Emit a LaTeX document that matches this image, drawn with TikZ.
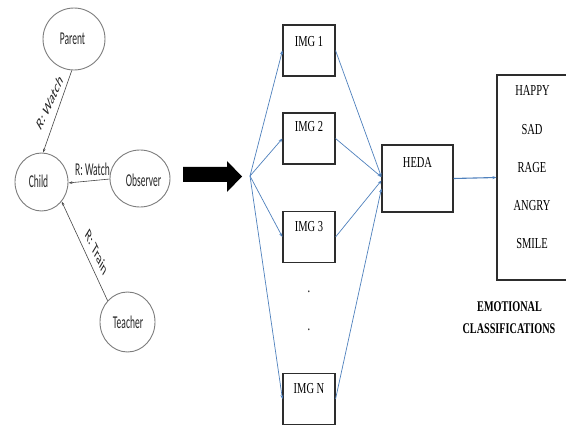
\documentclass[tikz,border=0pt]{standalone}
\usepackage{fontspec}
\setmainfont{Liberation Serif}
\newfontfamily\graphfont{Carlito}
\usetikzlibrary{shapes.geometric,arrows.meta,calc}
\definecolor{linkblue}{RGB}{79,129,189}
\definecolor{ringgray}{RGB}{125,125,125}
\definecolor{edgegray}{RGB}{70,70,70}
\definecolor{boxline}{RGB}{45,45,45}

\begin{document}
\begin{tikzpicture}[x=1pt,y=-1pt,
  ring/.style={draw=ringgray, line width=0.9pt, ellipse, inner sep=0pt},
  gtext/.style={font=\graphfont\fontsize{9.5}{11}\selectfont, text=black!85, inner sep=0pt, yscale=1.9},
  rel/.style={draw=edgegray, line width=0.6pt, -{Stealth[length=4pt,width=2.6pt]}},
  imgbox/.style={draw=boxline, line width=1.1pt, minimum width=52pt, minimum height=51pt, inner sep=0pt},
  stext/.style={font=\fontsize{10.5}{12}\selectfont, inner sep=0pt, yscale=1.45},
  btext/.style={font=\bfseries\fontsize{10.2}{12}\selectfont, inner sep=0pt, yscale=1.45},
  flow/.style={draw=linkblue, line width=0.7pt, -{Stealth[length=4pt,width=3pt]}},
]
\clip (0,0) rectangle (566,428);
\fill[white] (0,0) rectangle (566,428);

% ---- relation graph ----
\node[ring, minimum width=62pt, minimum height=62pt] (parent) at (74,39) {};
\node[gtext] (parentT) at (72.5,39) {Parent};
\node[ring, minimum width=53pt, minimum height=58pt] (child) at (41.5,182) {};
\node[gtext] (childT) at (38.5,181) {Child};
\node[ring, minimum width=60pt, minimum height=57pt] (observer) at (140,178.5) {};
\node[gtext] (observerT) at (143.5,180) {Observer};
\node[ring, minimum width=55pt, minimum height=60pt] (teacher) at (127.5,322) {};
\node[gtext] (teacherT) at (128,322.5) {Teacher};

\draw[rel] (parent.-94) -- (child.87);
\draw[rel] (observer.181) -- (child.-2);
\draw[rel] (teacher.133) -- (child.-44);
\node[gtext, rotate=49] (lblParent) at (49.5,102.5) {R: Watch};
\node[gtext] (lblObserver) at (92.5,169) {R: Watch};
\node[gtext, rotate=-49] (lblTeacher) at (96.5,252) {R: Train};

% ---- big transition arrow ----
\fill[black] (183,167) -- (227,167) -- (227,161) -- (242,176.5) -- (227,192)
  -- (227,182) -- (183,182) -- cycle;

% ---- image frames ----
\coordinate (fan) at (250,176);
\node[imgbox] (img1) at (309,50.5) {};
\node[imgbox] (img2) at (309,138.5) {};
\node[imgbox] (img3) at (309,237) {};
\node[imgbox] (imgN) at (309,399) {};
\node[stext] (img1T) at ($(img1.north)+(0,17)$) {IMG 1};
\node[stext] (img2T) at ($(img2.north)+(0,14.5)$) {IMG 2};
\node[stext] (img3T) at ($(img3.north)+(0,15.5)$) {IMG 3};
\node[stext] (imgNT) at ($(imgN.north)+(0,15.5)$) {IMG N};
\node[stext, anchor=base] (dotA) at (309,292) {.};
\node[stext, anchor=base] (dotB) at (309,330) {.};

% ---- HEDA and classes ----
\node[imgbox, minimum width=71pt, minimum height=67pt] (heda) at (417.5,178.5) {};
\node[stext] (hedaT) at (417.5,162.5) {HEDA};
\node[draw=boxline, line width=1.1pt, minimum width=103pt, minimum height=205pt, inner sep=0pt] (classes) at (548.5,177.5) {};
\node[stext] (happyT) at (532.5,90) {HAPPY};
\node[stext] (sadT) at (532,129.5) {SAD};
\node[stext] (rageT) at (532,167.5) {RAGE};
\node[stext] (angryT) at (532,206) {ANGRY};
\node[stext] (smileT) at (532,244) {SMILE};
\node[btext] (emoT) at (509.5,306.5) {EMOTIONAL};
\node[btext] (clsT) at (509,328.5) {CLASSIFICATIONS};

% ---- flows ----
\coordinate (hin1) at ($(heda.west)+(0,-1.5)$);
\coordinate (hin3) at ($(heda.west)+(0,2)$);
\coordinate (hinN) at ($(heda.west)+(0,10)$);
\draw[flow] (fan) -- (img1.west);
\draw[flow] (fan) -- (img2.west);
\draw[flow] (fan) -- (img3.west);
\draw[flow] (fan) -- (imgN.west);
\draw[flow] (img1.east) -- (hin1);
\draw[flow] (img2.east) -- (hin1);
\draw[flow] (img3.east) -- (hin3);
\draw[flow] (imgN.east) -- (hinN);
\draw[flow, line width=1.1pt] (heda.east) -- (classes.west);
\end{tikzpicture}
\end{document}
